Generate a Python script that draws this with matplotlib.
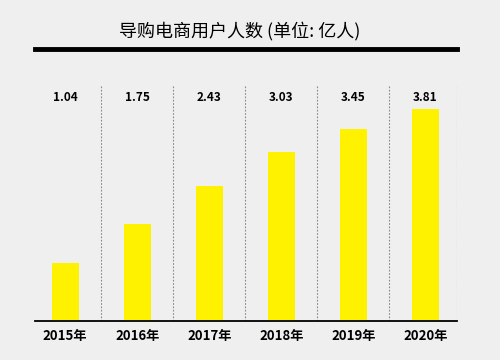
import matplotlib.pyplot as plt
from matplotlib.lines import Line2D

years = ["2015年", "2016年", "2017年", "2018年", "2019年", "2020年"]
users = [1.04, 1.75, 2.43, 3.03, 3.45, 3.81]
labels = ["1.04", "1.75", "2.43", "3.03", "3.45", "3.81"]

plt.rcParams['font.family'] = ['Noto Sans CJK SC', 'DejaVu Sans']
bg = "#efefef"

fig = plt.figure(figsize=(5, 3.6), dpi=100, facecolor=bg)
ax = fig.add_axes([0.07, 0.108, 0.844, 0.656], facecolor=bg)

x = list(range(len(years)))
ax.bar(x, users, width=0.37, color="#fff200", zorder=2)

left, right = -0.42, 5.44
seps = [i + 0.5 for i in range(len(years) - 1)] + [right]
for s in seps:
    ax.axvline(s, color="#888888", linestyle=(0, (1.5, 1.5)), linewidth=0.8, zorder=1)
for i in range(len(years)):
    ax.text(i, 4.02, labels[i], ha="center", va="center", fontsize=8.5,
            fontweight="bold")

ax.set_xlim(left, right)
ax.set_ylim(0, 4.24)
ax.set_xticks(x)
ax.set_xticklabels(years, fontsize=9.5, fontweight="bold")
ax.tick_params(axis="x", length=0, pad=6)
ax.set_yticks([])
for s in ["top", "left", "right"]:
    ax.spines[s].set_visible(False)
ax.spines["bottom"].set_linewidth(1.3)

fig.text(0.48, 0.915, "导购电商用户人数 (单位: 亿人)", ha="center", va="center",
         fontsize=13, fontweight="medium")
fig.add_artist(Line2D([0.07, 0.914], [0.864, 0.864], color="black", linewidth=3.5))

fig.savefig("out.png", dpi=100, facecolor=bg)
